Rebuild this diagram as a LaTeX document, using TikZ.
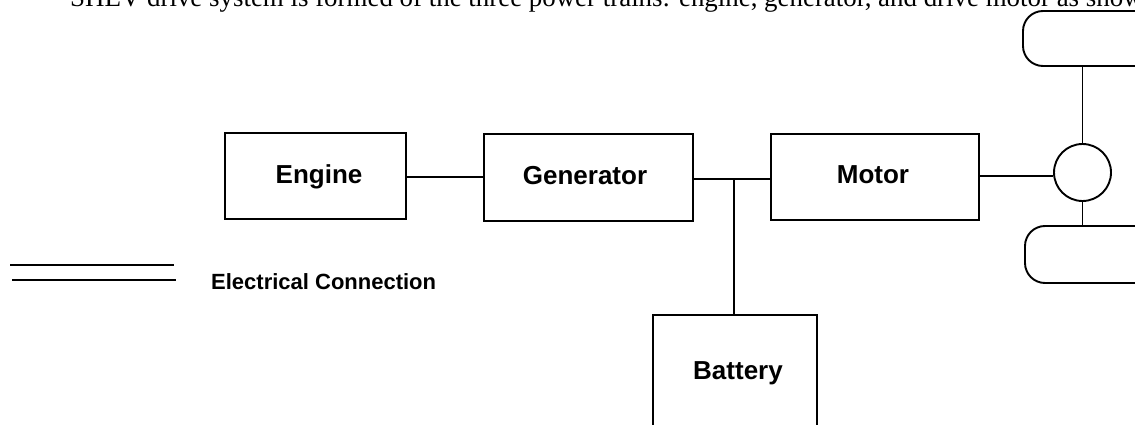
\documentclass[tikz,border=0pt]{standalone}
\usepackage{fontspec}
\setmainfont{Liberation Serif}
\newfontfamily\lsans{Liberation Sans}
\begin{document}
\begin{tikzpicture}[x=1pt,y=-1pt,
  boxline/.style={line width=1.9pt},
  wire/.style={line width=1.9pt},
  lbl/.style={font=\lsans\bfseries\fontsize{26}{30}\selectfont,anchor=base,inner sep=0pt},
  wheel/.style={draw,line width=1.9pt,rounded corners=20pt}]
\useasboundingbox (0,0) rectangle (1135,425);
\clip (0,0) rectangle (1135,425);
% top text (cut off by the upper edge)
\node[anchor=base west,inner sep=0pt,font=\fontsize{26.9}{30}\selectfont] (cap) at (70,7)
  {SHEV drive system is formed of the three power trains: engine, generator, and drive motor as shown};
% boxes
\draw[boxline] (225,133) rectangle (406,219);
\coordinate (engE) at (406,177);
\draw[boxline] (484,134) rectangle (693,221);
\coordinate (genW) at (484,177);
\coordinate (genE) at (693,179);
\draw[boxline] (771,134) rectangle (979,220);
\coordinate (motW) at (771,179);
\coordinate (motE) at (979,176);
\draw[boxline] (653,440) -- (653,315) -- (817,315) -- (817,440);
\coordinate (batN) at (734,315);
\coordinate (jn) at (734,179);
% labels
\node[lbl] (engine) at (319,183) {Engine};
\node[lbl] (generator) at (585,184) {Generator};
\node[lbl] (motor) at (873,183) {Motor};
\node[lbl] (battery) at (738,379) {Battery};
% differential and wheels
\node[draw,circle,line width=1.9pt,minimum size=57pt,inner sep=0pt] (diff) at (1082.5,172.5) {};
\draw[wheel] (1023,11) rectangle (1175,66);
\coordinate (wt) at (1082.5,67);
\draw[wheel] (1025,226) rectangle (1175,283);
\coordinate (wb) at (1082.5,226);
% connectors
\draw[wire] (engE) -- (genW);
\draw[wire] (genE) -- (motW);
\draw[wire] (jn) -- (batN);
\draw[wire] (motE) -- (motE -| diff.west);
\draw[wire] (diff.north) -- (wt);
\draw[wire] (diff.south) -- (wb);
% legend
\coordinate (l1a) at (10,265); \coordinate (l1b) at (174,265);
\coordinate (l2a) at (12,280); \coordinate (l2b) at (176,280);
\draw[wire] (l1a) -- (l1b);
\draw[wire] (l2a) -- (l2b);
\node[anchor=base west,inner sep=0pt,font=\lsans\bfseries\fontsize{22}{26}\selectfont] (legend) at (211,289) {Electrical Connection};
\end{tikzpicture}
\end{document}
